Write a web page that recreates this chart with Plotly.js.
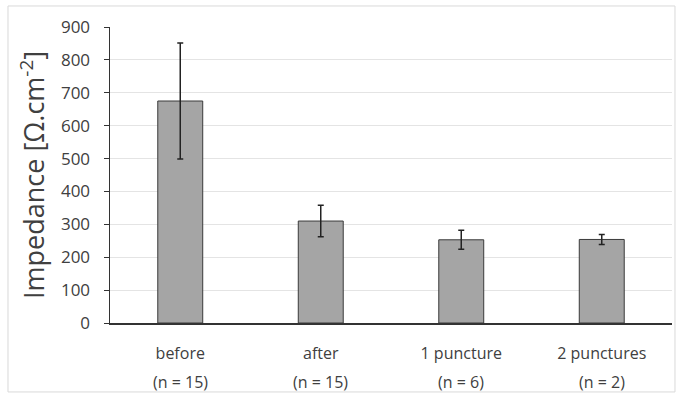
<!DOCTYPE html>
<html>
<head>
<meta charset="utf-8">
<script src="https://cdn.plot.ly/plotly-3.0.1.min.js"></script>
<style>html,body{margin:0;padding:0;background:#fff;}#chart{width:679px;height:396px;}</style>
</head>
<body>
<div id="chart"></div>
<script>
const categories = ["before", "after", "1 puncture", "2 punctures"];
const sampleSizes = ["(n = 15)", "(n = 15)", "(n = 6)", "(n = 2)"];
const impedance = [675, 310, 253, 254];
const errors = [176, 48, 29, 15];
const yTicks = [0, 100, 200, 300, 400, 500, 600, 700, 800, 900];

const trace = {
  type: "bar",
  x: categories,
  y: impedance,
  marker: {color: "#a5a5a5", line: {color: "#3a3a3a", width: 1}},
  error_y: {type: "data", array: errors, visible: true, color: "#222", thickness: 1.5, width: 3}
};

const layout = {
  width: 679, height: 396,
  margin: {l: 110, r: 7, t: 27, b: 73},
  paper_bgcolor: "#fff", plot_bgcolor: "#fff",
  bargap: 0.68,
  showlegend: false,
  font: {family: "Open Sans, Noto Sans, sans-serif", color: "#404040", size: 16},
  xaxis: {
    showline: true, linecolor: "#333", linewidth: 1.5,
    ticks: "", tickfont: {size: 16, color: "#404040"},
    ticklabelstandoff: 15,
    showgrid: false
  },
  yaxis: {
    range: [0, 900], tickvals: yTicks, ticktext: yTicks.map(String),
    showline: true, linecolor: "#333", linewidth: 1.5,
    ticks: "outside", ticklen: 5, tickcolor: "#333",
    ticklabelstandoff: 10,
    showgrid: true, gridcolor: "#e4e4e4", gridwidth: 1,
    zeroline: false,
    tickfont: {size: 17, color: "#404040"},
    title: {text: "Impedance [Ω.cm<sup>-2</sup>]", font: {size: 27, color: "#404040"}, standoff: 8}
  },
  annotations: categories.map((c, i) => ({
    x: c, xref: "x", y: -0.199, yref: "paper",
    text: sampleSizes[i], showarrow: false,
    xanchor: "center", yanchor: "middle",
    font: {size: 16, color: "#404040"}
  })),
  shapes: [{
    type: "rect", xref: "paper", yref: "paper",
    x0: -0.1815, x1: 1.0053, y0: -0.233, y1: 1.071,
    line: {color: "#d9d9d9", width: 1}, fillcolor: "rgba(0,0,0,0)", layer: "below"
  }]
};

Plotly.newPlot("chart", [trace], layout, {displayModeBar: false, staticPlot: true});
</script>
</body>
</html>
